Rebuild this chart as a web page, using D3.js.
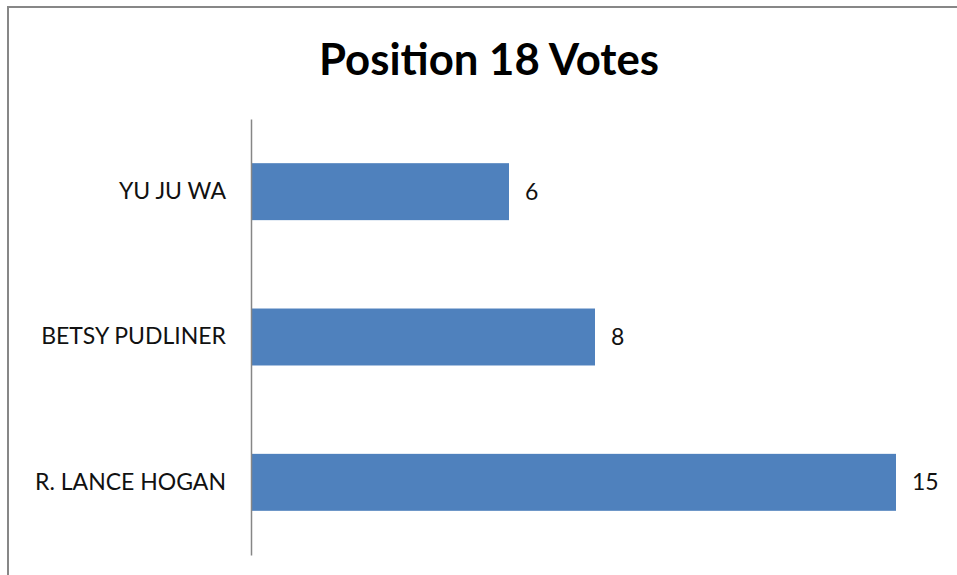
<!DOCTYPE html>
<html><head><meta charset="utf-8">
<script src="https://cdn.jsdelivr.net/npm/d3@7"></script>
<style>html,body{margin:0;padding:0;background:#fff;}</style>
</head><body>
<svg id="c" width="957" height="575"></svg>
<script>
const categories = ["YU JU WA", "BETSY PUDLINER", "R. LANCE HOGAN"];
const votes = [6, 8, 15];
const title = "Position 18 Votes";

const svg = d3.select("#c");
const font = "Lato, 'Open Sans', sans-serif";

// outer border
svg.append("rect").attr("x", 8).attr("y", 7).attr("width", 980).attr("height", 620)
  .attr("fill", "none").attr("stroke", "#878787").attr("stroke-width", 2);

svg.append("text").attr("x", 489).attr("y", 75).attr("text-anchor", "middle")
  .attr("font-family", font).attr("font-weight", "bold").attr("font-size", 44)
  .attr("textLength", 340).attr("lengthAdjust", "spacingAndGlyphs")
  .attr("fill", "#000").text(title);

const x = d3.scaleLinear().domain([0, 15]).range([251, 896]);
const y = d3.scaleBand().domain(categories).range([119, 555]).paddingInner(0.608).paddingOuter(0.304);

svg.selectAll("rect.bar").data(categories).join("rect").attr("class", "bar")
  .attr("x", x(0)).attr("y", d => y(d))
  .attr("width", (d, i) => x(votes[i]) - x(0)).attr("height", y.bandwidth())
  .attr("fill", "#4F81BD");

const ax = d3.axisLeft(y).tickSize(0).tickPadding(25);
const g = svg.append("g").attr("transform", `translate(${x(0)},0)`).call(ax);
g.select(".domain").attr("stroke", "#868686").attr("stroke-width", 1.5);
g.selectAll("text").attr("font-family", font).attr("font-size", 23).attr("fill", "#111");

svg.selectAll("text.val").data(categories).join("text").attr("class", "val")
  .attr("x", (d, i) => x(votes[i]) + 16).attr("y", d => y(d) + y.bandwidth() / 2)
  .attr("dy", "0.35em").attr("font-family", font).attr("font-size", 23).attr("fill", "#111")
  .text((d, i) => votes[i]);
</script>
</body></html>
